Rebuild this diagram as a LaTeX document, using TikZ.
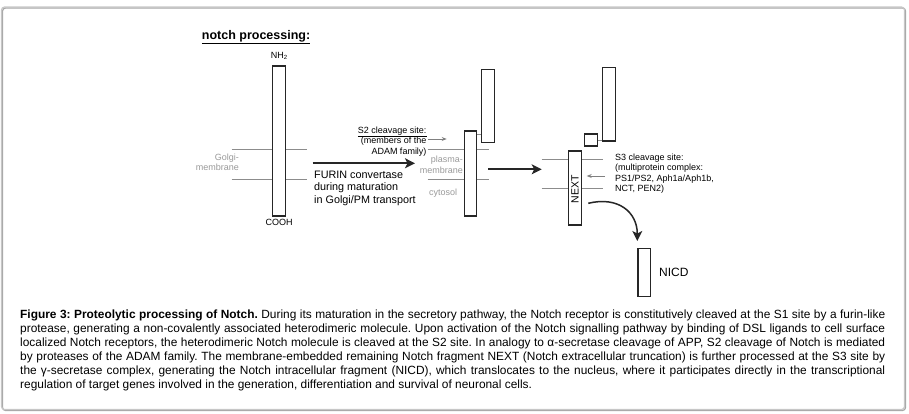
\documentclass[tikz,border=0pt]{standalone}
\usepackage{fontspec}
\setmainfont{Liberation Sans}
\usetikzlibrary{arrows.meta}
\usetikzlibrary{positioning}
\hyphenpenalty=10000
\tolerance=9999
\frenchspacing
\tikzset{
  bar/.style={draw=black!85, line width=1.1pt, fill=white, inner sep=0,
    minimum width=13pt},
  membrane/.style={draw=black!45, line width=0.9pt},
  link/.style={draw=black!45, line width=0.8pt},
  small/.style={font=\fontsize{9}{10.5}\selectfont, inner sep=0},
  faint/.style={small, text=black!40},
  bigarrow/.style={-{Stealth[length=10pt,width=10pt,inset=2.5pt]},
    line width=1.8pt, draw=black!85},
  bendarrow/.style={-{Stealth[length=10pt,width=10pt,inset=2.5pt]},
    line width=1.5pt, draw=black!85},
  thinarrow/.style={-{Stealth[length=5pt,width=4pt]}, line width=0.8pt,
    draw=black!50}
}

\begin{document}
\begin{tikzpicture}[x=1pt, y=-1pt]
  \useasboundingbox (0,0) rectangle (909,414);
  % frame
  \draw[black!35, line width=1.2pt, rounded corners=3pt] (2.5,8) rectangle (905.5,410.5);
  \draw[black!22, line width=1.2pt, rounded corners=3pt] (1.5,7) rectangle (904.5,409.5);

  \node[anchor=base west, inner sep=0, font=\fontsize{12.5}{15}\bfseries\selectfont]
    (title) at (201.7,39.5) {\underline{notch processing:}};

  % membranes
  \foreach \xa/\xb/\ya/\yb in {231.7/306.7/149.3/179, 427.7/489.3/149.3/179,
                               541.7/603.3/159.3/188.3}
    \draw[membrane] (\xa,\ya) -- (\xb,\ya) (\xa,\yb) -- (\xb,\yb);

  % full receptor
  \node[bar, minimum height=150pt] (full) at (279.2,141) {};
  \node[small, above=6pt of full] (nh) {NH\textsubscript{2}};
  \node[small, below=2pt of full] (cooh) {COOH};
  \node[faint, align=right, anchor=north east] (golgi) at (239,153.7)
    {Golgi-\\membrane};

  \coordinate (f1) at (312.7,163.3);
  \coordinate (f2) at (415,163.3);
  \draw[bigarrow] (f1) -- (f2);
  \node[anchor=north west, inner sep=0, align=left,
        font=\fontsize{10.8}{12.9}\selectfont] (furin) at (314,170.4)
    {FURIN convertase\\during maturation\\in Golgi/PM transport};

  % S2 cleavage
  \node[bar, minimum height=85pt, minimum width=12.5pt] (cleaved) at (470.5,173.5) {};
  \node[bar, minimum height=73.5pt, minimum width=12.5pt] (ecd) at (488,106) {};
  \draw[link] (477,134) -- (ecd.west |- 0,134);
  \node[small, align=right, anchor=north east] (s2) at (426.7,126.7)
    {\underline{S2 cleavage site:}\\(members of the\\ADAM family)};
  \coordinate (s2tail) at (428,139);
  \coordinate (s2tip) at (446.7,139);
  \draw[thinarrow] (s2tail) -- (s2tip);
  \node[faint, align=right, anchor=north east] (pm) at (463,156)
    {plasma-\\membrane};
  \node[faint, anchor=base] (cyt) at (443,195.9) {cytosol};

  \coordinate (n1) at (488.3,169.3);
  \coordinate (n2) at (541.7,169.3);
  \draw[bigarrow] (n1) -- (n2);

  % S3 cleavage
  \node[bar, minimum height=74pt, minimum width=13.5pt] (next) at (575,188) {};
  \node[rotate=90, inner sep=0, font=\fontsize{10.5}{12}\selectfont]
    (nextlabel) at ([yshift=-1pt]next.center) {NEXT};
  \node[bar, minimum height=73.7pt] (ecd2) at (609.3,104.2) {};
  \node[bar, minimum height=12pt, minimum width=13.4pt] (stub) at (591,140) {};
  \draw[link] (stub.east) -- (stub.east -| ecd2.west);
  \node[small, align=left, anchor=north west] (s3) at (615,153.4)
    {S3 cleavage site:\\(multiprotein complex:\\PS1/PS2, Aph1a/Aph1b,\\NCT, PEN2)};
  \coordinate (s3tail) at (605,176);
  \coordinate (s3tip) at (586.7,176);
  \draw[thinarrow] (s3tail) -- (s3tip);

  % NICD
  \node[bar, minimum height=48.5pt, minimum width=12.4pt] (nicd) at (644.2,272.5) {};
  \node[inner sep=0, font=\fontsize{12}{14}\selectfont, right=8pt of nicd]
    (nicdlabel) {NICD};
  \coordinate (c1) at (588.3,203.3);
  \coordinate (c2) at (637.3,241);
  \draw[bendarrow] (c1) .. controls (618,196) and (637.3,212) .. (c2);

  % caption
  \node[anchor=north west, inner sep=0, text width=865pt, align=justify,
        font=\fontsize{11.9}{14.1}\selectfont] (caption) at (20,309.5)
    {\textbf{Figure 3: Proteolytic processing of Notch.} During its maturation in
     the secretory pathway, the Notch receptor is constitutively cleaved at the S1
     site by a furin-like\linebreak protease, generating a non-covalently associated
     heterodimeric molecule. Upon activation of the Notch signalling pathway by
     binding of DSL ligands to cell surface\linebreak localized Notch receptors, the
     heterodimeric Notch molecule is cleaved at the S2 site. In analogy to
     α-secretase cleavage of APP, S2 cleavage of Notch is mediated\linebreak by
     proteases of the ADAM family. The membrane-embedded remaining Notch fragment
     NEXT (Notch extracellular truncation) is further processed at the S3 site
     by\linebreak the γ-secretase complex, generating the Notch intracellular
     fragment (NICD), which translocates to the nucleus, where it participates
     directly in the transcriptional\linebreak regulation of target genes involved
     in the generation, differentiation and survival of neuronal cells.};
\end{tikzpicture}
\end{document}
